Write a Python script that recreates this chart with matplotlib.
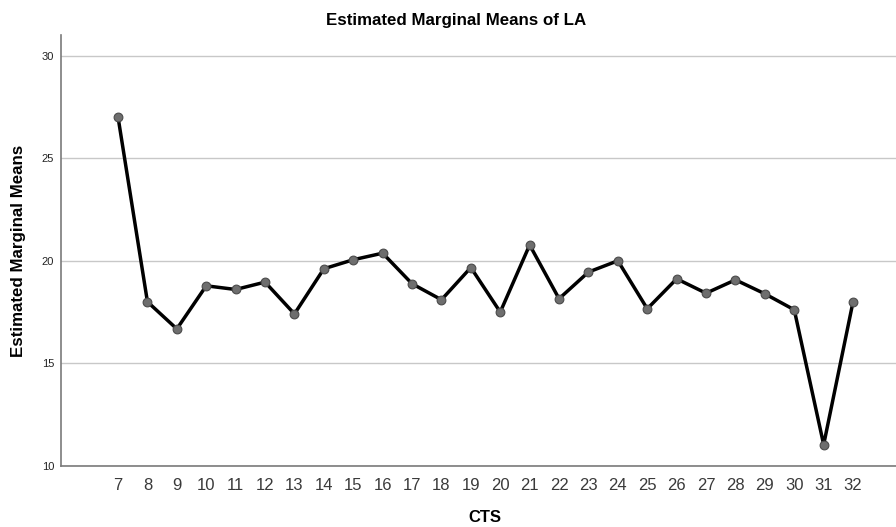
import matplotlib
matplotlib.use("Agg")
import matplotlib.pyplot as plt

# Estimated marginal means of LA for each CTS level
cts_levels = [7, 8, 9, 10, 11, 12, 13, 14, 15, 16, 17, 18, 19, 20,
              21, 22, 23, 24, 25, 26, 27, 28, 29, 30, 31, 32]
la_means = [27.0, 18.0, 16.68, 18.78, 18.60, 18.96, 17.41, 19.61, 20.05, 20.37,
            18.88, 18.10, 19.67, 17.50, 20.77, 18.15, 19.45, 20.00, 17.66, 19.12,
            18.42, 19.07, 18.39, 17.61, 11.04, 18.01]
y_ticks = [10, 15, 20, 25, 30]

plt.rcParams['font.family'] = ['Liberation Sans', 'DejaVu Sans']

fig = plt.figure(figsize=(8.96, 5.27), dpi=100)
ax = fig.add_axes([61 / 896, 61 / 527, 1 - 61 / 896, (466 - 35) / 527])

positions = list(range(len(cts_levels)))
ax.plot(positions, la_means, color='black', linewidth=2.5, zorder=3,
        marker='o', markersize=6.3, markerfacecolor='#6e6e6e',
        markeredgecolor='#4a4a4a', markeredgewidth=0.8)

ax.set_xlim(-1.94, 26.46)
ax.set_ylim(10, 31.0)
ax.set_yticks(y_ticks)
ax.set_xticks(positions)
ax.set_xticklabels([str(c) for c in cts_levels])

ax.grid(axis='y', color='#c8c8c8', linewidth=1.0, zorder=0)
ax.set_axisbelow(True)
for side in ('top', 'right'):
    ax.spines[side].set_visible(False)
for side in ('left', 'bottom'):
    ax.spines[side].set_color('#7a7a7a')
    ax.spines[side].set_linewidth(1.2)

ax.tick_params(axis='both', length=0)
ax.tick_params(axis='x', labelsize=12, colors='#3a3a3a', pad=9)
ax.tick_params(axis='y', labelsize=8, colors='#222222', pad=5)

ax.set_xlabel('CTS', fontsize=12, fontweight='bold')
ax.xaxis.set_label_coords((485 - 61) / 835, -(518 - 466) / 431)
ax.set_ylabel('Estimated Marginal Means', fontsize=12.2, fontweight='bold')
ax.yaxis.set_label_coords(-(61 - 18.5) / 835, 0.5)
ax.yaxis.label.set_verticalalignment('center')
ax.xaxis.label.set_verticalalignment('center')
fig.text(456 / 896, 1 - 21 / 527, 'Estimated Marginal Means of LA',
         ha='center', va='center', fontsize=12.2, fontweight='bold')

fig.savefig('out.png', dpi=100)
